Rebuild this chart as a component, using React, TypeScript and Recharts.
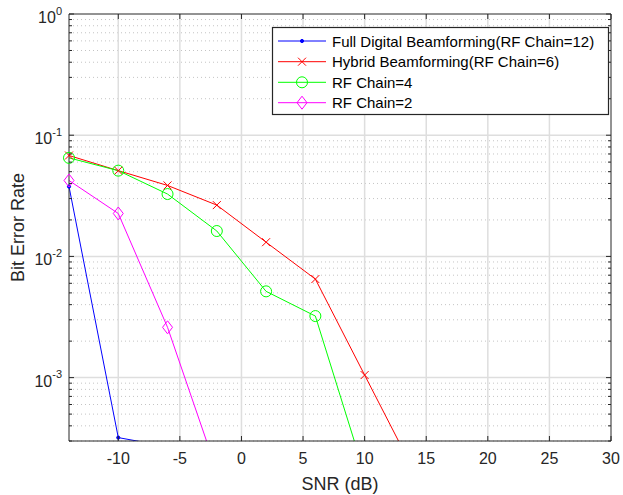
import { LineChart, Line, XAxis, YAxis, ReferenceLine } from 'recharts';

// SNR ticks and BER decade / minor grid values
const snrTicks = [-10, -5, 0, 5, 10, 15, 20, 25, 30];
const snrGrid = [-10, -5, 0, 5, 10, 15, 20, 25];
const berMajor = [1e-3, 1e-2, 1e-1, 1];
const berMinor = [
  3e-4, 4e-4, 5e-4, 6e-4, 7e-4, 8e-4, 9e-4,
  2e-3, 3e-3, 4e-3, 5e-3, 6e-3, 7e-3, 8e-3, 9e-3,
  2e-2, 3e-2, 4e-2, 5e-2, 6e-2, 7e-2, 8e-2, 9e-2,
  0.2, 0.3, 0.4, 0.5, 0.6, 0.7, 0.8, 0.9,
];
const berTicks = [...berMinor, ...berMajor].sort((a, b) => a - b);
const BER_MIN = 3e-4;

// series (last points fall below the visible range)
const fullSnr = [-14, -10, -6];
const fullBer = [0.0377, 3.2e-4, 2.7e-4];
const hybridSnr = [-14, -10, -6, -2, 2, 6, 10, 14];
const hybridBer = [0.068, 0.051, 0.0385, 0.0265, 0.0131, 0.0065, 0.00105, 0.00017];
const rf4Snr = [-14, -10, -6, -2, 2, 6, 10];
const rf4Ber = [0.065, 0.051, 0.0327, 0.0162, 0.00515, 0.00322, 0.00016];
const rf2Snr = [-14, -10, -6, -2];
const rf2Ber = [0.0423, 0.0226, 0.0026, 0.00017];

const seriesNames = [
  'Full Digital Beamforming(RF Chain=12)',
  'Hybrid Beamforming(RF Chain=6)',
  'RF Chain=4',
  'RF Chain=2',
];
const seriesColors = ['#0000ff', '#ff0000', '#00ff00', '#ff00ff'];
const seriesMarkers = ['dot', 'x', 'circle', 'diamond'];

const toRows = (xs: number[], ys: number[]) => xs.map((snr, i) => ({ snr, ber: ys[i] }));

const seriesData = [
  toRows(fullSnr, fullBer),
  toRows(hybridSnr, hybridBer),
  toRows(rf4Snr, rf4Ber),
  toRows(rf2Snr, rf2Ber),
];
// only the points inside the visible range get a marker (not clipped at the axes, like MATLAB)
const markerData = seriesData.map((rows) => rows.filter((r) => r.ber >= BER_MIN));

const FONT = '"Liberation Sans", Arial, Helvetica, sans-serif';
const AXIS = '#262626';

function Marker({ kind, cx, cy, color }: { kind: string; cx: number; cy: number; color: string }) {
  if (kind === 'dot') return <circle cx={cx} cy={cy} r={1.6} fill={color} stroke={color} />;
  if (kind === 'x')
    return (
      <g stroke={color} strokeWidth={1}>
        <line x1={cx - 4} y1={cy - 4} x2={cx + 4} y2={cy + 4} />
        <line x1={cx - 4} y1={cy + 4} x2={cx + 4} y2={cy - 4} />
      </g>
    );
  if (kind === 'circle') return <circle cx={cx} cy={cy} r={5.5} fill="none" stroke={color} strokeWidth={1} />;
  return (
    <polygon
      points={`${cx},${cy - 6.5} ${cx + 5},${cy} ${cx},${cy + 6.5} ${cx - 5},${cy}`}
      fill="none"
      stroke={color}
      strokeWidth={1}
    />
  );
}

const exponent = (v: number) => {
  const e = Math.round(Math.log10(v));
  return e === 0 ? '0' : `-${-e}`;
};
const isMajor = (v: number) => berMajor.some((m) => Math.abs(m - v) / m < 1e-6);

function BottomTick({ x, y, payload }: any) {
  return (
    <g>
      <line x1={x} y1={y} x2={x} y2={y - 5} stroke={AXIS} />
      <text x={x} y={y + 23} textAnchor="middle" fontSize={16} fontFamily={FONT} fill={AXIS}>
        {payload.value}
      </text>
    </g>
  );
}

function TopTick({ x, y }: any) {
  return <line x1={x} y1={y} x2={x} y2={y + 5} stroke={AXIS} />;
}

function LeftTick({ x, y, payload }: any) {
  const major = isMajor(payload.value);
  return (
    <g>
      <line x1={x} y1={y} x2={x + (major ? 5 : 3)} y2={y} stroke={AXIS} />
      {major && (
        <text x={x - 7} y={y + 9} textAnchor="end" fontSize={16} fontFamily={FONT} fill={AXIS}>
          <tspan>10</tspan>
          <tspan dy={-8.5} fontSize={11}>{exponent(payload.value)}</tspan>
        </text>
      )}
    </g>
  );
}

function RightTick({ x, y, payload }: any) {
  const major = isMajor(payload.value);
  return <line x1={x} y1={y} x2={x - (major ? 5 : 3)} y2={y} stroke={AXIS} />;
}

function YLabel({ viewBox }: any) {
  const vb = viewBox || { x: 0, y: 14, width: 69, height: 427 };
  const cx = vb.x + 18;
  const cy = vb.y + vb.height / 2;
  return (
    <text
      x={cx}
      y={cy}
      transform={`rotate(-90, ${cx}, ${cy})`}
      textAnchor="middle"
      dominantBaseline="central"
      fontSize={18}
      fontFamily={FONT}
      fill={AXIS}
    >
      Bit Error Rate
    </text>
  );
}

function XLabel({ viewBox }: any) {
  const vb = viewBox || { x: 69, y: 441, width: 542, height: 54 };
  return (
    <text x={vb.x + vb.width / 2} y={vb.y + 49} textAnchor="middle" fontSize={18} fontFamily={FONT} fill={AXIS}>
      SNR (dB)
    </text>
  );
}

function LegendBox() {
  const rowY = [14, 34.7, 55.3, 75.7];
  return (
    <svg
      width={337}
      height={88}
      style={{ position: 'absolute', left: 271.5, top: 26.5, overflow: 'visible' }}
    >
      <rect x={0.5} y={0.5} width={336} height={87} fill="#ffffff" stroke={AXIS} strokeWidth={1.2} />
      {seriesNames.map((name, i) => (
        <g key={name}>
          <line x1={6} y1={rowY[i]} x2={54} y2={rowY[i]} stroke={seriesColors[i]} strokeWidth={1} />
          <Marker kind={seriesMarkers[i]} cx={30} cy={rowY[i]} color={seriesColors[i]} />
          <text x={60} y={rowY[i] + 5.5} fontSize={15} fontFamily={FONT} fill="#000000">
            {name}
          </text>
        </g>
      ))}
    </svg>
  );
}

export default function App() {
  return (
    <div style={{ position: 'absolute', left: 0, top: 0, width: 623, height: 495, background: '#ffffff' }}>
      <LineChart width={623} height={495} margin={{ top: 0, right: 0, bottom: 0, left: 0 }}>
        <XAxis
          xAxisId="bottom"
          type="number"
          dataKey="snr"
          domain={[-14, 30]}
          ticks={snrTicks}
          interval={0}
          allowDataOverflow
          height={54}
          tickSize={0}
          tickMargin={0}
          tickLine={false}
          tick={<BottomTick />}
          axisLine={{ stroke: AXIS }}
          label={<XLabel />}
        />
        <XAxis
          xAxisId="top"
          orientation="top"
          type="number"
          dataKey="snr"
          domain={[-14, 30]}
          ticks={snrTicks}
          interval={0}
          height={14}
          tickSize={0}
          tickMargin={0}
          tickLine={false}
          tick={<TopTick />}
          axisLine={{ stroke: AXIS }}
        />
        <YAxis
          yAxisId="left"
          type="number"
          scale="log"
          domain={[BER_MIN, 1]}
          ticks={berTicks}
          interval={0}
          allowDataOverflow
          width={69}
          tickSize={0}
          tickMargin={0}
          tickLine={false}
          tick={<LeftTick />}
          axisLine={{ stroke: AXIS }}
          label={<YLabel />}
        />
        <YAxis
          yAxisId="right"
          orientation="right"
          type="number"
          scale="log"
          domain={[BER_MIN, 1]}
          ticks={berTicks}
          interval={0}
          width={12}
          tickSize={0}
          tickMargin={0}
          tickLine={false}
          tick={<RightTick />}
          axisLine={{ stroke: AXIS }}
        />

        {berMinor.map((v) => (
          <ReferenceLine
            key={`minor-${v}`}
            xAxisId="bottom"
            yAxisId="left"
            y={v}
            stroke="#c4c4c4"
            strokeDasharray="1 3"
          />
        ))}
        {berMajor.slice(0, 3).map((v) => (
          <ReferenceLine key={`major-${v}`} xAxisId="bottom" yAxisId="left" y={v} stroke="#dedede" strokeWidth={1.5} />
        ))}
        {snrGrid.map((v) => (
          <ReferenceLine key={`vx-${v}`} xAxisId="bottom" yAxisId="left" x={v} stroke="#dedede" strokeWidth={1.5} />
        ))}

        {seriesData.map((rows, i) => (
          <Line
            key={seriesNames[i]}
            xAxisId="bottom"
            yAxisId="left"
            data={rows}
            dataKey="ber"
            name={seriesNames[i]}
            type="linear"
            stroke={seriesColors[i]}
            strokeWidth={1}
            isAnimationActive={false}
            activeDot={false}
            dot={false}
          />
        ))}
        {markerData.map((rows, i) => (
          <Line
            key={`m-${seriesNames[i]}`}
            xAxisId="top"
            yAxisId="right"
            data={rows}
            dataKey="ber"
            stroke="none"
            isAnimationActive={false}
            activeDot={false}
            legendType="none"
            dot={(p: any) => (
              <Marker key={`${i}-${p.index}`} kind={seriesMarkers[i]} cx={p.cx} cy={p.cy} color={seriesColors[i]} />
            )}
          />
        ))}
      </LineChart>
      <LegendBox />
    </div>
  );
}
